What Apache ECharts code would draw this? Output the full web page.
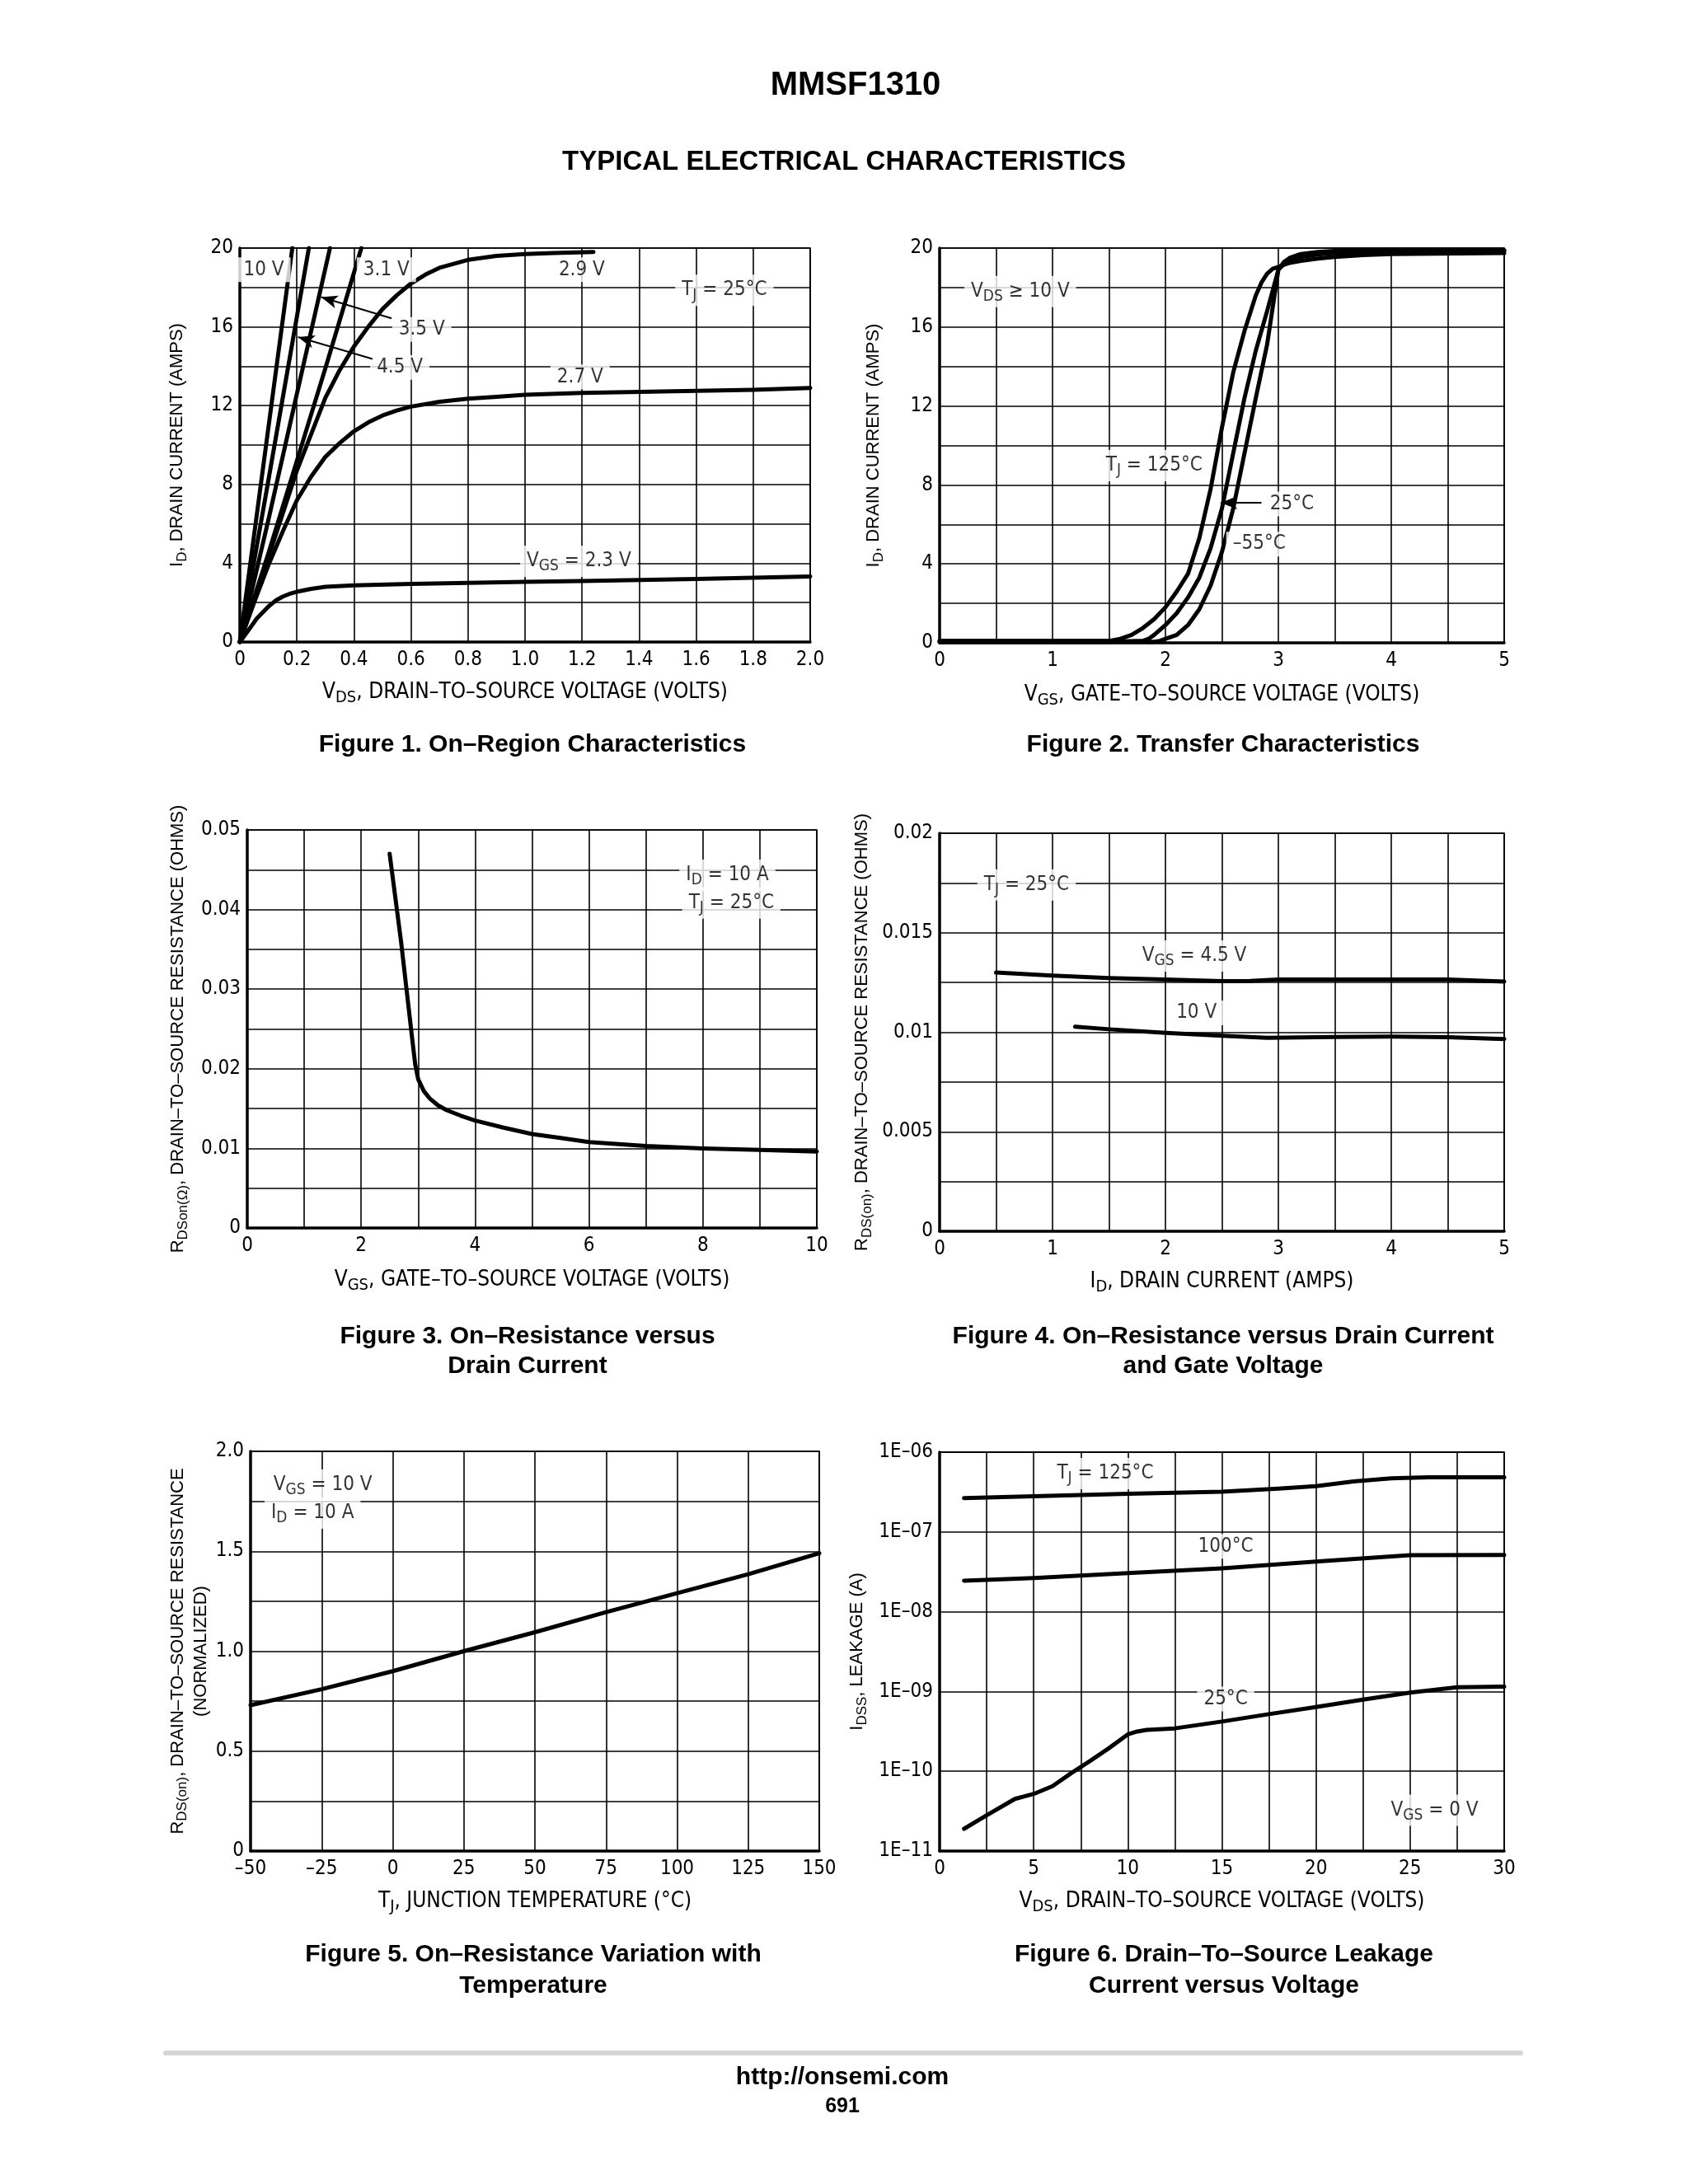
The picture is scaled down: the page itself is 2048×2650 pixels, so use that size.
<!DOCTYPE html>
<html><head><meta charset="utf-8">
<script src="https://cdn.jsdelivr.net/npm/echarts@6/dist/echarts.min.js"></script>
<style>html,body{margin:0;padding:0;background:#fff}#c{width:2048px;height:2650px}</style>
</head><body><div id="c"></div>
<script>
// ================= DATA =================
// Figure 1: On-Region Characteristics  [VDS (V), ID (A)]
const f1_10V  = [[0,0],[0.184,20]];
const f1_4_5V = [[0,0],[0.1,8.2],[0.242,20]];
const f1_3_5V = [[0,0],[0.1,6.2],[0.2,12.6],[0.316,20]];
const f1_3_1V = [[0,0],[0.1,4.5],[0.2,9.2],[0.3,13.9],[0.426,20]];
const f1_2_9V = [[0,0],[0.1,4.3],[0.2,8.7],[0.3,12.4],[0.35,13.8],[0.4,15.0],[0.45,16.0],[0.5,16.9],[0.55,17.6],[0.6,18.2],[0.65,18.65],[0.7,19.0],[0.75,19.2],[0.8,19.4],[0.9,19.6],[1.0,19.7],[1.1,19.75],[1.24,19.8]];
const f1_2_7V = [[0,0],[0.05,2.0],[0.1,3.9],[0.15,5.6],[0.2,7.2],[0.25,8.4],[0.3,9.4],[0.35,10.1],[0.4,10.7],[0.45,11.15],[0.5,11.5],[0.55,11.75],[0.6,11.95],[0.7,12.2],[0.8,12.35],[0.9,12.45],[1.0,12.55],[1.2,12.65],[1.4,12.7],[1.6,12.75],[1.8,12.8],[2.0,12.9]];
const f1_2_3V = [[0,0],[0.03,0.6],[0.06,1.2],[0.1,1.8],[0.125,2.1],[0.15,2.3],[0.175,2.45],[0.2,2.55],[0.25,2.7],[0.3,2.8],[0.4,2.88],[0.6,2.95],[0.8,3.0],[1.0,3.05],[1.2,3.1],[1.4,3.15],[1.6,3.2],[1.8,3.26],[2.0,3.33]];
const f1_x_labels = ['0','0.2','0.4','0.6','0.8','1.0','1.2','1.4','1.6','1.8','2.0'];
const f1_y_labels = ['0','','4','','8','','12','','16','','20'];

// Figure 2: Transfer Characteristics [VGS (V), ID (A)]
const f2_125C = [[0,0.1],[1.5,0.1],[1.6,0.2],[1.7,0.4],[1.8,0.75],[1.9,1.2],[2.0,1.8],[2.1,2.6],[2.2,3.5],[2.3,5.3],[2.4,7.8],[2.5,10.9],[2.6,13.7],[2.7,15.8],[2.8,17.6],[2.85,18.25],[2.9,18.7],[2.95,18.95],[3.0,19.05],[3.1,19.25],[3.2,19.35],[3.35,19.47],[3.5,19.55],[3.75,19.65],[4.0,19.7],[5.0,19.75]];
const f2_25C  = [[0,0.05],[1.5,0.05],[1.8,0.1],[1.85,0.2],[1.9,0.4],[2.0,0.9],[2.1,1.5],[2.2,2.3],[2.3,3.3],[2.4,4.8],[2.5,6.8],[2.6,9.6],[2.7,12.4],[2.8,14.8],[2.9,16.8],[3.0,18.9],[3.05,19.2],[3.1,19.38],[3.2,19.55],[3.35,19.68],[3.5,19.75],[4.0,19.85],[5.0,19.85]];
const f2_m55C = [[0,0.05],[1.9,0.05],[1.95,0.1],[2.0,0.2],[2.1,0.4],[2.2,0.9],[2.3,1.7],[2.4,2.9],[2.5,4.6],[2.6,6.8],[2.7,9.6],[2.8,12.4],[2.9,15.1],[3.0,18.9],[3.05,19.3],[3.1,19.5],[3.2,19.7],[3.35,19.8],[3.5,19.85],[4.0,19.9],[5.0,19.9]];
const f2_x_labels = ['0','','1','','2','','3','','4','','5'];
const f2_y_labels = ['0','','4','','8','','12','','16','','20'];

// Figure 3: On-Resistance vs VGS [VGS (V), RDS(on) (ohm)]
const f3_rds = [[2.5,0.047],[2.7,0.036],[2.9,0.0235],[2.95,0.0205],[3.0,0.0187],[3.1,0.0172],[3.2,0.0163],[3.35,0.0154],[3.5,0.0148],[3.75,0.0141],[4.0,0.0135],[4.5,0.0126],[5.0,0.0118],[5.5,0.0113],[6,0.0108],[7,0.0103],[8,0.0100],[9,0.0098],[10,0.0096]];
const f3_x_labels = ['0','','2','','4','','6','','8','','10'];
const f3_y_labels = ['0','','0.01','','0.02','','0.03','','0.04','','0.05'];

// Figure 4: On-Resistance vs ID [ID (A), RDS(on) (ohm)]
const f4_4_5V = [[0.5,0.0130],[1,0.01285],[1.5,0.01272],[2,0.01265],[2.5,0.01257],[2.75,0.01258],[3,0.01265],[3.5,0.01265],[4,0.01265],[4.5,0.01265],[5,0.01255]];
const f4_10V  = [[1.2,0.01028],[1.5,0.01015],[2,0.00997],[2.5,0.00982],[2.9,0.00972],[3.5,0.00976],[4,0.00978],[4.5,0.00975],[5,0.00966]];
const f4_x_labels = ['0','','1','','2','','3','','4','','5'];
const f4_y_labels = ['0','','0.005','','0.01','','0.015','','0.02'];

// Figure 5: Normalized RDS(on) vs TJ [TJ (C), ratio]
const f5_rds = [[-50,0.73],[-25,0.81],[0,0.9],[25,1.0],[50,1.095],[75,1.195],[100,1.29],[125,1.385],[150,1.49]];
const f5_x_labels = ['–50','–25','0','25','50','75','100','125','150'];
const f5_y_labels = ['0','','0.5','','1.0','','1.5','','2.0'];

// Figure 6: Leakage vs VDS [VDS (V), IDSS (A)]
const f6_125C = [[1.3,2.65e-7],[5,2.8e-7],[10,3.0e-7],[15,3.2e-7],[18,3.5e-7],[20,3.75e-7],[22,4.3e-7],[24,4.7e-7],[26,4.85e-7],[30,4.85e-7]];
const f6_100C = [[1.3,2.45e-8],[5,2.65e-8],[10,3.05e-8],[15,3.5e-8],[20,4.25e-8],[25,5.1e-8],[30,5.15e-8]];
const f6_25C  = [[1.3,1.9e-11],[2.5,2.8e-11],[4,4.5e-11],[5,5.2e-11],[6,6.5e-11],[7,9.5e-11],[8,1.35e-10],[9,1.95e-10],[10,2.9e-10],[10.5,3.15e-10],[11,3.3e-10],[12.5,3.45e-10],[15,4.2e-10],[17.5,5.2e-10],[20,6.4e-10],[22.5,7.9e-10],[25,9.7e-10],[27.5,1.13e-9],[30,1.15e-9]];
const f6_x_labels = ['0','','5','','10','','15','','20','','25','','30'];
const f6_y_labels = ['1E–11','1E–10','1E–09','1E–08','1E–07','1E–06'];
const f6_minor_mult = [2,4,6,8];

// ================= RENDER =================
const NARROW = "'Liberation Sans Narrow','Arial Narrow','DejaVu Sans Condensed',sans-serif";
const SANS = "'Liberation Sans',Arial,Helvetica,sans-serif";
function rt(s){ return s.replace(/_\{([^}]*)\}/g, (m,a)=>'{s|'+a+'}'); }
function rich(fs, fam){ return { s:{fontSize:Math.round(fs*0.78), fontFamily:fam, color:'#000', padding:[Math.round(fs*0.55),0,0,0]} }; }

const grids = [
  {left:291, top:301, width:692, height:478},
  {left:1140, top:301, width:685, height:479},
  {left:300, top:1007, width:691, height:483},
  {left:1140, top:1011, width:685, height:483},
  {left:304, top:1761, width:690, height:485},
  {left:1140, top:1762, width:685, height:484}
].map(g=>Object.assign(g,{show:true,borderColor:'#000',borderWidth:1.6,backgroundColor:'transparent'}));

function lin(gi, dir, min, max, interval, labels, name, nameGap){
  const isX = dir==='x';
  const fam = isX ? NARROW : SANS;
  const fs = isX ? 26 : 22;
  return {
    type:'value', gridIndex:gi, min, max, interval,
    name: rt(name), nameLocation:'middle', nameGap,
    nameTextStyle:{fontFamily:fam,fontSize:fs,color:'#000',rich:rich(fs,fam),lineHeight: isX?30:28},
    axisLine:{show:true,onZero:false,lineStyle:{color:'#000',width:3.5}},
    axisTick:{show:false},
    axisLabel:{fontFamily:NARROW,fontSize:24,color:'#000',margin:isX?10:8,
      formatter:(v)=>{const l=labels[Math.round((v-min)/interval)];return l===undefined?'':l;}},
    splitLine:{show:true,lineStyle:{color:'#000',width:1.6}}
  };
}

const xAxes = [
  lin(0,'x',0,2,0.2,f1_x_labels,'V_{DS}, DRAIN–TO–SOURCE VOLTAGE (VOLTS)',46),
  lin(1,'x',0,5,0.5,f2_x_labels,'V_{GS}, GATE–TO–SOURCE VOLTAGE (VOLTS)',48),
  lin(2,'x',0,10,1,f3_x_labels,'V_{GS}, GATE–TO–SOURCE VOLTAGE (VOLTS)',48),
  lin(3,'x',0,5,0.5,f4_x_labels,'I_{D}, DRAIN CURRENT (AMPS)',46),
  lin(4,'x',-50,150,25,f5_x_labels,'T_{J}, JUNCTION TEMPERATURE (°C)',46),
  lin(5,'x',0,30,2.5,f6_x_labels,'V_{DS}, DRAIN–TO–SOURCE VOLTAGE (VOLTS)',46)
];
const yAxes = [
  lin(0,'y',0,20,2,f1_y_labels,'I_{D}, DRAIN CURRENT (AMPS)',62),
  lin(1,'y',0,20,2,f2_y_labels,'I_{D}, DRAIN CURRENT (AMPS)',66),
  lin(2,'y',0,0.05,0.005,f3_y_labels,'R_{DSon(Ω)}, DRAIN–TO–SOURCE RESISTANCE (OHMS)',70),
  lin(3,'y',0,0.02,0.0025,f4_y_labels,'R_{DS(on)}, DRAIN–TO–SOURCE RESISTANCE (OHMS)',80),
  lin(4,'y',0,2,0.25,f5_y_labels,'R_{DS(on)}, DRAIN–TO–SOURCE RESISTANCE\n(NORMALIZED)',46),
  {
    type:'log', gridIndex:5, min:1e-11, max:1e-6, logBase:10, splitNumber:5,
    name: rt('I_{DSS}, LEAKAGE (A)'), nameLocation:'middle', nameGap:86,
    nameTextStyle:{fontFamily:SANS,fontSize:22,color:'#000',rich:rich(22,SANS),lineHeight:28},
    axisLine:{show:true,onZero:false,lineStyle:{color:'#000',width:3.5}},
    axisTick:{show:false},
    axisLabel:{fontFamily:NARROW,fontSize:24,color:'#000',margin:8,
      formatter:(v)=>{const l=f6_y_labels[Math.round(Math.log10(v))+11];return l===undefined?'':l;}},
    splitLine:{show:true,lineStyle:{color:'#000',width:1.6}}
  }
];

function curve(gi, data){
  return {type:'line', xAxisIndex:gi, yAxisIndex:gi, data, symbol:'none', showSymbol:false, smooth:false,
    lineStyle:{color:'#000',width:5,cap:'round',join:'round'}, z:2, silent:true, animation:false};
}
const labelBase = {show:true, position:'inside', color:'#000', fontFamily:NARROW, fontSize:24,
  backgroundColor:'#fff', padding:[3,8], rich:rich(24,NARROW), formatter:(p)=>p.data.t};
function notes(gi, items, arrows){
  const s = {type:'scatter', xAxisIndex:gi, yAxisIndex:gi, symbolSize:1, itemStyle:{color:'rgba(0,0,0,0)'},
    z:3, silent:true, animation:false,
    data: items.map(it=>({value:[it[0],it[1]], t: rt(it[2])})),
    label: labelBase};
  if (arrows) s.markLine = {silent:true, animation:false, symbol:['none','arrow'], symbolSize:[12,20],
    lineStyle:{color:'#000',width:2,type:'solid'}, label:{show:false},
    data: arrows.map(a=>[{coord:[a[0],a[1]]},{coord:[a[2],a[3]]}])};
  return s;
}

const minorLines = [];
for (let e=-11; e<=-7; e++) for (const m of f6_minor_mult) minorLines.push({yAxis: m*Math.pow(10,e)});

const series = [
  curve(0,f1_10V), curve(0,f1_4_5V), curve(0,f1_3_5V), curve(0,f1_3_1V),
  curve(0,f1_2_9V), curve(0,f1_2_7V), curve(0,f1_2_3V),
  notes(0, [[0.084,18.9,'10 V'],[0.514,18.9,'3.1 V'],[1.199,18.9,'2.9 V'],[1.699,17.86,'T_{J} = 25°C'],
            [0.638,15.87,'3.5 V'],[0.561,13.94,'4.5 V'],[1.193,13.46,'2.7 V'],[1.189,4.1,'V_{GS} = 2.3 V']],
        [[0.532,16.43,0.285,17.51],[0.465,14.37,0.204,15.48]]),
  curve(1,f2_125C), curve(1,f2_25C), curve(1,f2_m55C),
  notes(1, [[0.714,17.8,'V_{DS} ≥ 10 V'],[1.9,8.98,'T_{J} = 125°C'],[3.12,7.04,'25°C'],[2.83,5.0,'–55°C']],
        [[2.85,7.1,2.49,7.1]]),
  curve(2,f3_rds),
  notes(2, [[8.43,0.0443,'I_{D} = 10 A'],[8.5,0.0408,'T_{J} = 25°C']]),
  curve(3,f4_4_5V), curve(3,f4_10V),
  notes(3, [[0.77,0.0174,'T_{J} = 25°C'],[2.256,0.01383,'V_{GS} = 4.5 V'],[2.275,0.01097,'10 V']]),
  curve(4,f5_rds),
  notes(4, [[-24.6,1.831,'V_{GS} = 10 V'],[-28.2,1.691,'I_{D} = 10 A']]),
  {type:'line', xAxisIndex:5, yAxisIndex:5, data:[[0,1e-11]], symbol:'none', lineStyle:{width:0}, z:1, silent:true,
   markLine:{silent:true, animation:false, symbol:['none','none'], label:{show:false},
     lineStyle:{color:'#000',width:1.6,type:'solid'}, data:minorLines}},
  curve(5,f6_125C), curve(5,f6_100C), curve(5,f6_25C),
  notes(5, [[8.8,5.4e-7,'T_{J} = 125°C'],[15.2,6.6e-8,'100°C'],[15.2,8.05e-10,'25°C'],[26.3,3.25e-11,'V_{GS} = 0 V']])
];

function txt(text, x, y, size, weight){
  return {type:'text', silent:true, style:{text, x, y, fill:'#000', fontSize:size, fontWeight:weight||'bold',
    fontFamily:SANS, align:'center', verticalAlign:'middle', textAlign:'center', textVerticalAlign:'middle'}};
}
const graphic = [
  txt('MMSF1310',1038,104,40),
  txt('TYPICAL ELECTRICAL CHARACTERISTICS',1024,197,33),
  txt('Figure 1. On–Region Characteristics',646,904,30),
  txt('Figure 2. Transfer Characteristics',1484,904,30),
  txt('Figure 3. On–Resistance versus',640,1622,30),
  txt('Drain Current',640,1658,30),
  txt('Figure 4. On–Resistance versus Drain Current',1484,1622,30),
  txt('and Gate Voltage',1484,1658,30),
  txt('Figure 5. On–Resistance Variation with',647,2372,30),
  txt('Temperature',647,2410,30),
  txt('Figure 6. Drain–To–Source Leakage',1485,2372,30),
  txt('Current versus Voltage',1485,2410,30),
  {type:'rect', silent:true, shape:{x:198,y:2488,width:1650,height:6,r:3}, style:{fill:'#d6d6d6'}},
  txt('http://onsemi.com',1022,2521,30),
  txt('691',1022,2556,25)
];

const chart = echarts.init(document.getElementById('c'), null, {renderer:'canvas'});
chart.setOption({animation:false, backgroundColor:'#fff', grid:grids, xAxis:xAxes, yAxis:yAxes, series, graphic});
</script>
</body></html>
